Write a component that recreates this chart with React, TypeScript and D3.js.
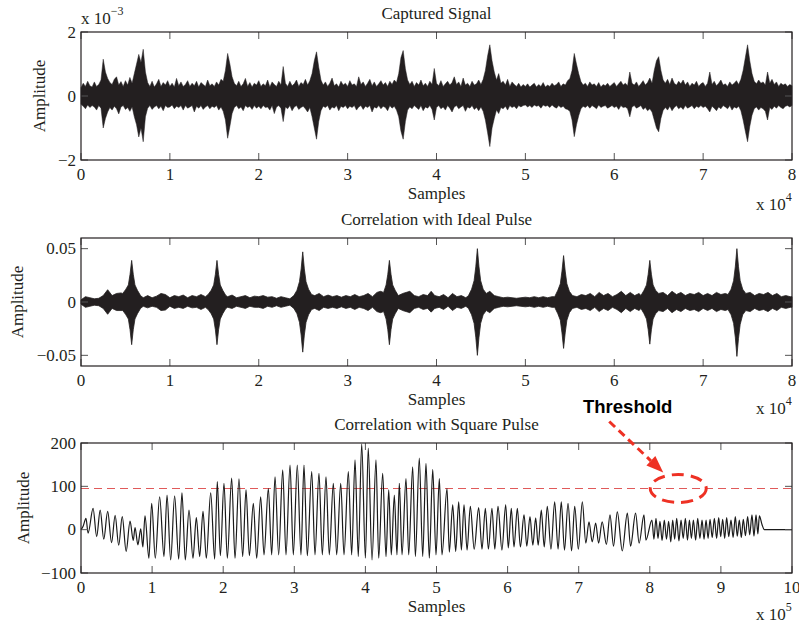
import React from 'react';
import * as d3 from 'd3';

// ---------- DATA ----------
// Panel 1: captured signal envelope (x 1e-3), one bin every 0.025 x 1e4 samples
const capturedStep = 0.025;
const capturedHi = [
  0.26, 0.40, 0.30, 0.46, 0.32, 0.28, 0.44, 0.30, 0.36, 0.50,
  1.15, 0.75, 0.55, 0.42, 0.36, 0.52, 0.60, 0.34, 0.45, 0.30,
  0.48, 0.34, 0.58, 0.40, 0.70, 1.00, 1.30, 1.05, 1.46, 0.75,
  0.42, 0.30, 0.46, 0.28, 0.38, 0.52, 0.30, 0.42, 0.34, 0.48,
  0.30, 0.40, 0.28, 0.55, 0.32, 0.44, 0.30, 0.36, 0.48, 0.30,
  0.40, 0.32, 0.46, 0.28, 0.42, 0.36, 0.30, 0.50, 0.32, 0.38,
  0.30, 0.44, 0.34, 0.52, 0.46, 0.80, 1.33, 1.00, 0.60, 0.40,
  0.32, 0.46, 0.30, 0.38, 0.55, 0.30, 0.42, 0.28, 0.40, 0.34,
  0.48, 0.30, 0.38, 0.32, 0.50, 0.28, 0.44, 0.36, 0.30, 0.46,
  0.34, 0.92, 0.40, 0.30, 0.46, 0.32, 0.38, 0.50, 0.30, 0.42,
  0.36, 0.52, 0.34, 0.48, 0.70, 1.10, 1.38, 0.90, 0.50, 0.34,
  0.44, 0.30, 0.40, 0.56, 0.32, 0.38, 0.28, 0.46, 0.34, 0.40,
  0.30, 0.48, 0.34, 0.38, 0.30, 0.60, 0.36, 0.44, 0.30, 0.40,
  0.52, 0.32, 0.44, 0.30, 0.38, 0.48, 0.34, 0.42, 0.30, 0.46,
  0.36, 0.50, 0.42, 0.70, 1.20, 1.42, 0.85, 0.50, 0.36, 0.46,
  0.30, 0.42, 0.34, 0.50, 0.32, 0.40, 0.30, 0.46, 0.36, 0.86,
  0.40, 0.32, 0.48, 0.30, 0.38, 0.46, 0.34, 0.42, 0.60, 0.36,
  0.44, 0.30, 0.56, 0.34, 0.40, 0.30, 0.46, 0.34, 0.38, 0.50,
  0.36, 0.52, 0.80, 1.25, 1.60, 1.10, 0.75, 0.50, 0.70, 0.40,
  0.46, 0.34, 0.52, 0.30, 0.44, 0.36, 0.30, 0.40, 0.28, 0.36,
  0.30, 0.38, 0.28, 0.34, 0.40, 0.28, 0.36, 0.30, 0.42, 0.28,
  0.34, 0.30, 0.40, 0.32, 0.36, 0.44, 0.30, 0.38, 0.34, 0.48,
  0.54, 0.80, 1.33, 1.00, 0.70, 0.45, 0.34, 0.40, 0.30, 0.44,
  0.34, 0.38, 0.30, 0.42, 0.28, 0.36, 0.32, 0.40, 0.30, 0.36,
  0.42, 0.30, 0.38, 0.46, 0.34, 0.40, 0.32, 0.75, 0.40, 0.34,
  0.44, 0.30, 0.38, 0.48, 0.34, 0.42, 0.56, 0.40, 0.80, 1.10,
  1.23, 0.80, 0.50, 0.40, 0.52, 0.36, 0.56, 0.40, 0.34, 0.46,
  0.38, 0.50, 0.34, 0.44, 0.30, 0.40, 0.34, 0.46, 0.30, 0.38,
  0.42, 0.30, 0.40, 0.75, 0.36, 0.46, 0.32, 0.40, 0.50, 0.34,
  0.38, 0.30, 0.44, 0.34, 0.40, 0.48, 0.36, 0.52, 0.80, 1.20,
  1.60, 1.10, 0.70, 0.46, 0.38, 0.50, 0.40, 0.44, 0.34, 0.75,
  0.40, 0.52, 0.36, 0.44, 0.30, 0.40, 0.34, 0.38, 0.30, 0.36,
  0.32,
];
const capturedLo = [
  -0.26, -0.32, -0.40, -0.28, -0.36, -0.30, -0.34, -0.44, -0.30, -0.38,
  -1.00, -0.70, -0.50, -0.36, -0.44, -0.32, -0.40, -0.56, -0.34, -0.30,
  -0.42, -0.36, -0.48, -0.34, -0.65, -0.90, -1.28, -1.00, -1.43, -0.65,
  -0.38, -0.30, -0.42, -0.34, -0.30, -0.40, -0.32, -0.46, -0.30, -0.36,
  -0.34, -0.28, -0.40, -0.32, -0.36, -0.30, -0.44, -0.30, -0.38, -0.34,
  -0.30, -0.50, -0.32, -0.38, -0.30, -0.42, -0.34, -0.30, -0.40, -0.32,
  -0.36, -0.30, -0.44, -0.34, -0.48, -0.75, -1.32, -0.95, -0.55, -0.36,
  -0.30, -0.40, -0.34, -0.46, -0.30, -0.36, -0.32, -0.42, -0.30, -0.38,
  -0.32, -0.40, -0.30, -0.36, -0.34, -0.44, -0.30, -0.55, -0.34, -0.30,
  -0.38, -0.80, -0.34, -0.40, -0.30, -0.46, -0.34, -0.30, -0.42, -0.36,
  -0.32, -0.40, -0.50, -0.36, -0.65, -1.00, -1.35, -0.80, -0.46, -0.32,
  -0.36, -0.30, -0.44, -0.34, -0.38, -0.30, -0.46, -0.32, -0.36, -0.30,
  -0.40, -0.32, -0.36, -0.30, -0.44, -0.34, -0.30, -0.42, -0.32, -0.36,
  -0.30, -0.50, -0.34, -0.38, -0.30, -0.40, -0.32, -0.36, -0.46, -0.30,
  -0.38, -0.32, -0.44, -0.65, -1.10, -1.35, -0.80, -0.44, -0.34, -0.40,
  -0.30, -0.36, -0.42, -0.30, -0.46, -0.34, -0.38, -0.30, -0.42, -0.75,
  -0.36, -0.30, -0.40, -0.34, -0.44, -0.30, -0.38, -0.50, -0.34, -0.30,
  -0.40, -0.34, -0.30, -0.48, -0.34, -0.38, -0.30, -0.42, -0.36, -0.46,
  -0.34, -0.48, -0.75, -1.15, -1.58, -1.00, -0.70, -0.44, -0.55, -0.36,
  -0.40, -0.32, -0.44, -0.30, -0.36, -0.32, -0.40, -0.30, -0.34, -0.30,
  -0.28, -0.34, -0.30, -0.36, -0.28, -0.32, -0.30, -0.38, -0.28, -0.32,
  -0.30, -0.36, -0.28, -0.34, -0.38, -0.30, -0.36, -0.32, -0.40, -0.42,
  -0.48, -0.75, -1.27, -0.90, -0.62, -0.40, -0.32, -0.36, -0.30, -0.38,
  -0.30, -0.34, -0.40, -0.28, -0.36, -0.32, -0.30, -0.38, -0.34, -0.30,
  -0.36, -0.32, -0.42, -0.30, -0.36, -0.34, -0.40, -0.65, -0.34, -0.30,
  -0.38, -0.34, -0.30, -0.42, -0.36, -0.46, -0.40, -0.50, -0.75, -1.00,
  -1.12, -0.70, -0.45, -0.36, -0.44, -0.32, -0.46, -0.36, -0.30, -0.40,
  -0.34, -0.42, -0.30, -0.38, -0.34, -0.30, -0.40, -0.32, -0.36, -0.30,
  -0.36, -0.32, -0.40, -0.50, -0.32, -0.38, -0.46, -0.34, -0.40, -0.30,
  -0.34, -0.40, -0.30, -0.44, -0.34, -0.38, -0.32, -0.46, -0.75, -1.10,
  -1.43, -0.95, -0.60, -0.40, -0.34, -0.44, -0.36, -0.40, -0.48, -0.75,
  -0.36, -0.42, -0.32, -0.38, -0.30, -0.36, -0.40, -0.32, -0.30, -0.34,
  -0.30,
];

// Panel 2: correlation with ideal pulse, envelope [samples x1e4, upper, lower]
const idealEnvelope: [number, number, number][] = [
  [0.00, 0.002, -0.002], [0.05, 0.005, -0.005], [0.10, 0.004, -0.004], [0.15, 0.003, -0.003],
  [0.20, 0.0035, -0.0035], [0.25, 0.006, -0.006], [0.30, 0.0115, -0.0115], [0.35, 0.006, -0.006],
  [0.40, 0.008, -0.008], [0.45, 0.0085, -0.008],
  [0.47, 0.008, -0.008], [0.505, 0.012, -0.012], [0.533, 0.016, -0.016], [0.552, 0.026, -0.026],
  [0.57, 0.039, -0.040], [0.588, 0.026, -0.026], [0.607, 0.016, -0.016], [0.635, 0.011, -0.011],
  [0.67, 0.006, -0.006],
  [0.70, 0.004, -0.004], [0.75, 0.006, -0.0055], [0.80, 0.004, -0.004], [0.85, 0.0055, -0.005],
  [0.90, 0.008, -0.008], [0.95, 0.007, -0.0075], [1.00, 0.004, -0.004], [1.05, 0.006, -0.006],
  [1.10, 0.005, -0.005], [1.15, 0.0065, -0.006], [1.20, 0.004, -0.004], [1.25, 0.006, -0.0055],
  [1.30, 0.005, -0.005], [1.35, 0.007, -0.007], [1.40, 0.005, -0.005],
  [1.43, 0.007, -0.007], [1.465, 0.011, -0.011], [1.493, 0.016, -0.016], [1.512, 0.026, -0.026],
  [1.53, 0.039, -0.040], [1.548, 0.026, -0.026], [1.567, 0.016, -0.016], [1.595, 0.011, -0.011],
  [1.63, 0.006, -0.006],
  [1.65, 0.005, -0.005], [1.70, 0.0065, -0.006], [1.75, 0.004, -0.004], [1.80, 0.005, -0.005],
  [1.85, 0.006, -0.006], [1.90, 0.004, -0.004], [1.95, 0.0055, -0.005], [2.00, 0.005, -0.005],
  [2.05, 0.006, -0.006], [2.10, 0.0045, -0.004], [2.15, 0.005, -0.005], [2.20, 0.0035, -0.0035],
  [2.25, 0.005, -0.005], [2.30, 0.004, -0.004], [2.35, 0.003, -0.003],
  [2.395, 0.006, -0.006], [2.43, 0.011, -0.011], [2.458, 0.019, -0.019], [2.477, 0.031, -0.031],
  [2.495, 0.047, -0.047], [2.513, 0.031, -0.031], [2.532, 0.019, -0.019], [2.56, 0.012, -0.012],
  [2.595, 0.007, -0.007],
  [2.63, 0.006, -0.006], [2.68, 0.008, -0.008], [2.73, 0.005, -0.005], [2.78, 0.0065, -0.006],
  [2.83, 0.005, -0.005], [2.88, 0.006, -0.006], [2.93, 0.0045, -0.0045], [2.98, 0.006, -0.006],
  [3.03, 0.005, -0.005], [3.08, 0.007, -0.007], [3.13, 0.005, -0.005], [3.18, 0.006, -0.006],
  [3.23, 0.008, -0.008], [3.28, 0.005, -0.005], [3.33, 0.009, -0.009], [3.37, 0.010, -0.010],
  [3.405, 0.009, -0.009], [3.433, 0.016, -0.016], [3.452, 0.026, -0.026], [3.47, 0.039, -0.040],
  [3.488, 0.026, -0.026], [3.507, 0.016, -0.016], [3.535, 0.011, -0.011], [3.57, 0.006, -0.006],
  [3.62, 0.008, -0.008], [3.70, 0.010, -0.010], [3.75, 0.006, -0.006], [3.80, 0.005, -0.005],
  [3.85, 0.007, -0.007], [3.90, 0.006, -0.006], [3.94, 0.010, -0.0095], [3.98, 0.006, -0.006],
  [4.03, 0.005, -0.005], [4.08, 0.007, -0.007], [4.13, 0.004, -0.004], [4.18, 0.008, -0.008],
  [4.23, 0.005, -0.005], [4.28, 0.006, -0.006], [4.33, 0.004, -0.004],
  [4.36, 0.006, -0.006], [4.395, 0.012, -0.012], [4.423, 0.020, -0.020], [4.442, 0.033, -0.033],
  [4.46, 0.050, -0.050], [4.478, 0.033, -0.033], [4.497, 0.020, -0.020], [4.525, 0.012, -0.012],
  [4.56, 0.008, -0.008],
  [4.60, 0.010, -0.010], [4.65, 0.006, -0.006], [4.70, 0.005, -0.005], [4.75, 0.004, -0.004],
  [4.80, 0.0045, -0.0045], [4.85, 0.004, -0.004], [4.90, 0.0035, -0.0035], [4.95, 0.004, -0.004],
  [5.00, 0.0045, -0.0045], [5.05, 0.004, -0.004], [5.10, 0.005, -0.005], [5.15, 0.004, -0.004],
  [5.20, 0.005, -0.005], [5.25, 0.004, -0.004], [5.30, 0.005, -0.005],
  [5.33, 0.005, -0.005], [5.365, 0.011, -0.011], [5.393, 0.017, -0.017], [5.412, 0.029, -0.029],
  [5.43, 0.0435, -0.0435], [5.448, 0.029, -0.029], [5.467, 0.017, -0.017], [5.495, 0.010, -0.010],
  [5.53, 0.006, -0.006],
  [5.58, 0.005, -0.005], [5.63, 0.007, -0.007], [5.68, 0.006, -0.006], [5.73, 0.008, -0.008],
  [5.78, 0.005, -0.005], [5.83, 0.009, -0.009], [5.88, 0.006, -0.006], [5.93, 0.008, -0.008],
  [5.98, 0.005, -0.005], [6.03, 0.007, -0.007], [6.08, 0.010, -0.010], [6.13, 0.006, -0.006],
  [6.18, 0.009, -0.009], [6.23, 0.006, -0.006], [6.28, 0.008, -0.008],
  [6.30, 0.006, -0.006], [6.335, 0.011, -0.011], [6.363, 0.016, -0.016], [6.382, 0.026, -0.026],
  [6.40, 0.039, -0.0395], [6.418, 0.026, -0.026], [6.437, 0.016, -0.016], [6.465, 0.011, -0.011],
  [6.50, 0.008, -0.008],
  [6.55, 0.009, -0.009], [6.60, 0.006, -0.006], [6.65, 0.010, -0.010], [6.70, 0.007, -0.007],
  [6.75, 0.009, -0.009], [6.80, 0.006, -0.006], [6.85, 0.008, -0.008], [6.90, 0.007, -0.007],
  [6.95, 0.009, -0.009], [7.00, 0.006, -0.006], [7.05, 0.008, -0.008], [7.10, 0.006, -0.006],
  [7.15, 0.009, -0.009], [7.20, 0.007, -0.007], [7.25, 0.008, -0.008],
  [7.28, 0.007, -0.007], [7.315, 0.012, -0.012], [7.343, 0.020, -0.020], [7.362, 0.033, -0.033],
  [7.38, 0.050, -0.051], [7.398, 0.033, -0.034], [7.417, 0.020, -0.021], [7.445, 0.012, -0.012],
  [7.48, 0.008, -0.008],
  [7.53, 0.009, -0.009], [7.58, 0.006, -0.006], [7.63, 0.008, -0.008], [7.68, 0.007, -0.007],
  [7.73, 0.009, -0.009], [7.78, 0.006, -0.006], [7.83, 0.008, -0.008], [7.88, 0.005, -0.005],
  [7.93, 0.006, -0.006], [7.98, 0.005, -0.005], [8.00, 0.005, -0.005],
];

// Panel 3: correlation with square pulse, turning points [samples x1e5, amplitude]
const squareCorr: [number, number][] = [
  [0, 0], [0.03, 8], [0.07, 26], [0.10, -8], [0.17, 49], [0.22, -16], [0.27, 45], [0.32, -22],
  [0.375, 42], [0.43, -30], [0.48, 33], [0.53, -36], [0.58, 30], [0.635, -50], [0.69, 20],
  [0.735, -25], [0.76, 5], [0.80, -35], [0.84, 2], [0.87, -40], [0.90, 32], [0.955, -66],
  [0.994, 61], [1.045, -66], [1.106, 76], [1.167, -62], [1.21, 80], [1.261, -70], [1.317, 78],
  [1.374, -68], [1.42, 85], [1.467, -70], [1.519, 45], [1.575, -66], [1.622, 28], [1.669, -62],
  [1.716, 42], [1.763, -66], [1.824, 85], [1.88, -68], [1.917, 111], [1.96, -60], [2.011, 107],
  [2.058, -66], [2.119, 119], [2.166, -66], [2.222, 117], [2.274, -62], [2.321, 92], [2.368, -60],
  [2.424, 61], [2.471, -66], [2.527, 76], [2.574, -58], [2.635, 95], [2.682, -58], [2.729, 122],
  [2.78, -58], [2.837, 138], [2.883, -58], [2.94, 149], [2.986, -58], [3.042, 149], [3.094, -58],
  [3.136, 149], [3.183, -60], [3.245, 134], [3.291, -58], [3.347, 130], [3.394, -58], [3.446, 122],
  [3.492, -58], [3.549, 107], [3.596, -58], [3.653, 107], [3.699, -58], [3.76, 134], [3.807, -58],
  [3.854, 161], [3.90, -62], [3.948, 198], [4.00, -66], [4.04, 188], [4.093, -70], [4.149, 161],
  [4.187, -66], [4.243, 130], [4.29, -62], [4.328, 92], [4.364, -58], [4.407, 80], [4.444, -58],
  [4.477, 107], [4.515, -58], [4.571, 118], [4.609, -58], [4.665, 145], [4.703, -62], [4.758, 165],
  [4.806, -62], [4.852, 153], [4.899, -66], [4.947, 139], [4.993, -58], [5.04, 118], [5.077, -58],
  [5.148, 95], [5.18, -52], [5.228, 57], [5.27, -50], [5.312, 64], [5.35, -47], [5.387, 57],
  [5.43, -47], [5.476, 54], [5.53, -45], [5.593, 51], [5.64, -45], [5.687, 49], [5.73, -45],
  [5.78, 49], [5.82, -45], [5.865, 54], [5.92, -47], [5.973, 57], [6.01, -42], [6.052, 49],
  [6.09, -40], [6.137, 49], [6.18, -40], [6.231, 34], [6.27, -38], [6.315, 30], [6.355, -36],
  [6.395, 27], [6.43, -36], [6.474, 45], [6.515, -40], [6.558, 54], [6.61, -45], [6.662, 64],
  [6.71, -45], [6.755, 64], [6.80, -47], [6.85, 61], [6.90, -49], [6.944, 54], [6.995, -45],
  [7.051, 64], [7.10, -31], [7.145, 18], [7.19, -28], [7.239, 15], [7.28, -31], [7.33, 18],
  [7.39, -34], [7.44, 34], [7.49, -38], [7.543, 41], [7.613, -49], [7.684, 38], [7.73, -38],
  [7.80, 38], [7.85, -31], [7.918, 34], [7.945, -24], [8.03, 22], [8.058, -22], [8.087, 26],
  [8.115, -20], [8.143, 19], [8.173, -25], [8.204, 22], [8.235, -22], [8.265, 19], [8.295, -28],
  [8.322, 22], [8.35, -22], [8.378, 26], [8.41, -26], [8.439, 22], [8.47, -20], [8.5, 26],
  [8.53, -24], [8.557, 22], [8.585, -20], [8.613, 22], [8.645, -24], [8.674, 26], [8.705, -20],
  [8.735, 22], [8.763, -22], [8.791, 22], [8.82, -20], [8.847, 24], [8.878, -18], [8.908, 26],
  [8.94, -20], [8.969, 28], [8.997, -16], [9.025, 24], [9.053, -20], [9.081, 28], [9.11, -16],
  [9.142, 22], [9.172, -18], [9.203, 30], [9.23, -15], [9.259, 22], [9.287, -18], [9.315, 24],
  [9.345, -14], [9.376, 30], [9.405, -12], [9.437, 34], [9.465, -15], [9.494, 34], [9.52, -10],
  [9.541, 32], [9.578, 12], [9.611, 0], [10, 0],
];
const threshold = 95;

// ticks
const xTicks8 = [0, 1, 2, 3, 4, 5, 6, 7, 8];
const xTicks10 = [0, 1, 2, 3, 4, 5, 6, 7, 8, 9, 10];
const yTicks1 = [-2, 0, 2];
const yTickLabels1 = ['\u22122', '0', '2'];
const yTicks2 = [-0.05, 0, 0.05];
const yTickLabels2 = ['\u22120.05', '0', '0.05'];
const yTicks3 = [-100, 0, 100, 200];
const yTickLabels3 = ['\u2212100', '0', '100', '200'];

const titles = ['Captured Signal', 'Correlation with Ideal Pulse', 'Correlation with Square Pulse'];

// ---------- STYLE ----------
const W = 799, H = 625;
const LEFT = 81, RIGHT = 792;
const SERIF = "'Liberation Serif','Times New Roman',Times,serif";
const SANS = "'Liberation Sans',Arial,Helvetica,sans-serif";
const FS = 17;
const INK = '#231f20';
const RED = '#ee3124';

type FrameProps = {
  x: d3.ScaleLinear<number, number>;
  y: d3.ScaleLinear<number, number>;
  xTicks: number[];
  yTicks: number[];
  yLabels: string[];
  title: string;
  ylabelX: number;
  exp: string;
  expOffset: number;
};

function Frame({ x, y, xTicks, yTicks, yLabels, title, ylabelX, exp, expOffset }: FrameProps) {
  const [top, bottom] = [y.range()[1], y.range()[0]];
  const tl = 7;
  const cx = (LEFT + RIGHT) / 2;
  return (
    <g>
      {xTicks.map((t) => (
        <g key={'x' + t}>
          <line x1={x(t)} x2={x(t)} y1={bottom} y2={bottom - tl} stroke="#555" strokeWidth={1} />
          <line x1={x(t)} x2={x(t)} y1={top} y2={top + tl} stroke="#555" strokeWidth={1} />
          <text x={x(t)} y={bottom + 20} textAnchor="middle" fontFamily={SERIF} fontSize={FS} fill={INK}>
            {t}
          </text>
        </g>
      ))}
      {yTicks.map((t, i) => (
        <g key={'y' + t}>
          <line x1={LEFT} x2={LEFT + tl} y1={y(t)} y2={y(t)} stroke="#555" strokeWidth={1} />
          <line x1={RIGHT} x2={RIGHT - tl} y1={y(t)} y2={y(t)} stroke="#555" strokeWidth={1} />
          <text x={LEFT - 5} y={y(t) + 5.5} textAnchor="end" fontFamily={SERIF} fontSize={FS} fill={INK}>
            {yLabels[i]}
          </text>
        </g>
      ))}
      <rect x={LEFT} y={top} width={RIGHT - LEFT} height={bottom - top} fill="none" stroke={INK} strokeWidth={1.2} />
      <text x={cx} y={top - 13} textAnchor="middle" fontFamily={SERIF} fontSize={FS} fill={INK}>
        {title}
      </text>
      <text x={cx} y={bottom + 39} textAnchor="middle" fontFamily={SERIF} fontSize={FS} fill={INK}>
        Samples
      </text>
      <text
        transform={`translate(${ylabelX},${(top + bottom) / 2}) rotate(-90)`}
        textAnchor="middle"
        fontFamily={SERIF}
        fontSize={FS}
        fill={INK}
      >
        Amplitude
      </text>
      <text x={756} y={bottom + expOffset} fontFamily={SERIF} fontSize={FS} fill={INK}>
        x 10
        <tspan dy={-9} fontSize={12}>
          {exp}
        </tspan>
      </text>
    </g>
  );
}

export default function App() {
  // panel 1
  const x1 = d3.scaleLinear().domain([0, 8]).range([LEFT, RIGHT]);
  const y1 = d3.scaleLinear().domain([-2, 2]).range([160, 32]);
  const area1 = d3
    .area<number>()
    .x((_, i) => x1(i * capturedStep))
    .y0((_, i) => y1(capturedLo[i]))
    .y1((d) => y1(d));

  // panel 2
  const x2 = d3.scaleLinear().domain([0, 8]).range([LEFT, RIGHT]);
  const y2 = d3.scaleLinear().domain([-0.06, 0.06]).range([366, 238]);
  const area2 = d3
    .area<[number, number, number]>()
    .x((d) => x2(d[0]))
    .y0((d) => y2(d[2]))
    .y1((d) => y2(d[1]));

  // panel 3
  const x3 = d3.scaleLinear().domain([0, 10]).range([LEFT, RIGHT]);
  const y3 = d3.scaleLinear().domain([-100, 200]).range([573, 443]);
  const line3 = d3
    .line<[number, number]>()
    .x((d) => x3(d[0]))
    .y((d) => y3(d[1]))
    .curve(d3.curveMonotoneX);

  // annotation anchored on the threshold line
  const ex = x3(8.4);
  const ey = y3(threshold);
  const tip: [number, number] = [ex - 15, ey - 16];
  const start: [number, number] = [ex - 69, ey - 67];
  const dx = tip[0] - start[0];
  const dy = tip[1] - start[1];
  const len = Math.hypot(dx, dy);
  const ux = dx / len, uy = dy / len;
  const hl = 17, hw = 6.5;
  const bx = tip[0] - ux * hl, by = tip[1] - uy * hl;
  const head = `M${tip[0]},${tip[1]} L${bx - uy * hw},${by + ux * hw} L${bx + uy * hw},${by - ux * hw} Z`;

  return (
    <svg
      width={W}
      height={H}
      viewBox={`0 0 ${W} ${H}`}
      style={{ position: 'absolute', left: 0, top: 0, background: '#fff' }}
    >
      <rect width={W} height={H} fill="#fff" />

      {/* Panel 1 */}
      <path d={area1(capturedHi) || ''} fill={INK} stroke={INK} strokeWidth={0.5} />
      <Frame x={x1} y={y1} xTicks={xTicks8} yTicks={yTicks1} yLabels={yTickLabels1} title={titles[0]} ylabelX={45} exp="4" expOffset={50} />
      <text x={LEFT} y={24} fontFamily={SERIF} fontSize={FS} fill={INK}>
        x 10
        <tspan dy={-9} fontSize={12}>
          {'\u22123'}
        </tspan>
      </text>

      {/* Panel 2 */}
      <path d={area2(idealEnvelope) || ''} fill={INK} stroke={INK} strokeWidth={0.8} />
      <Frame x={x2} y={y2} xTicks={xTicks8} yTicks={yTicks2} yLabels={yTickLabels2} title={titles[1]} ylabelX={23} exp="4" expOffset={48} />

      {/* Panel 3 */}
      <line x1={LEFT} x2={RIGHT} y1={y3(threshold)} y2={y3(threshold)} stroke="#e05a5a" strokeWidth={1.2} strokeDasharray="8,5" />
      <path d={line3(squareCorr) || ''} fill="none" stroke="#1a1a1a" strokeWidth={1.2} />
      <Frame x={x3} y={y3} xTicks={xTicks10} yTicks={yTicks3} yLabels={yTickLabels3} title={titles[2]} ylabelX={29} exp="5" expOffset={47} />

      {/* Threshold annotation */}
      <text x={583} y={413} fontFamily={SANS} fontWeight="bold" fontSize={18.5} fill="#000">
        Threshold
      </text>
      <line x1={start[0]} y1={start[1]} x2={bx} y2={by} stroke={RED} strokeWidth={3} strokeDasharray="8,5" />
      <path d={head} fill={RED} />
      <ellipse cx={ex} cy={ey} rx={28} ry={14} fill="none" stroke={RED} strokeWidth={3} strokeDasharray="12,7" />
    </svg>
  );
}
